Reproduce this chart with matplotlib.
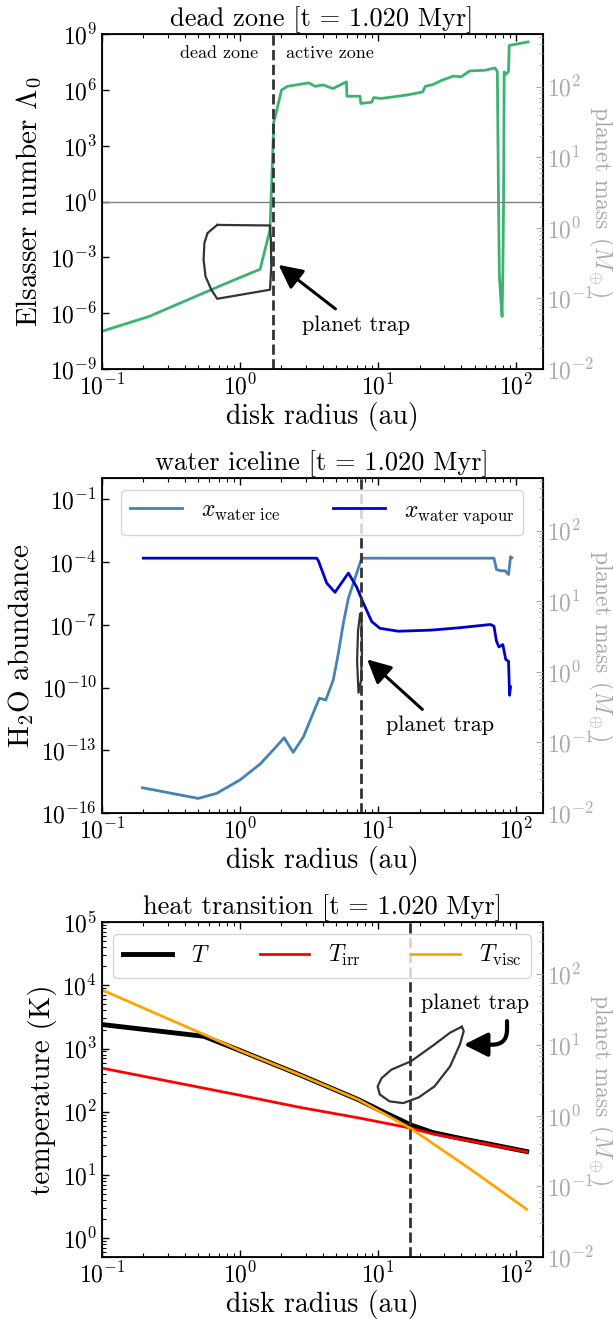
#!/usr/bin/env python3

import matplotlib
matplotlib.use("Agg")
import matplotlib.pyplot as plt
import numpy as np

plt.rcParams['font.family'] = 'serif'
plt.rcParams['font.serif'] = ['cmr10', 'DejaVu Serif']
plt.rcParams['mathtext.fontset'] = 'cm'
plt.rcParams['axes.formatter.use_mathtext'] = True
plt.rcParams['axes.unicode_minus'] = False

# ---- data: dead zone panel
r_dz = [0.1, 0.22, 0.8, 1.4, 1.65, 1.76, 1.8, 2.0, 2.2, 3.16, 3.5, 4.0, 4.7,
        5.9, 5.95, 7.4, 7.5, 9.0, 9.3, 10.5, 16, 21, 22, 25, 29, 35, 40, 46,
        60, 70, 73, 74.5, 75.5, 77, 79, 80, 81, 81.8, 84, 88, 89, 122]
log_lambda = [-6.97, -6.17, -4.38, -3.63, -1.52, 4.3, 4.56, 6.0, 6.2, 6.39,
              6.2, 6.28, 6.08, 6.44, 5.67, 5.67, 5.28, 5.35, 5.6, 5.55, 5.73,
              5.9, 6.2, 6.3, 6.53, 6.75, 6.72, 7.03, 7.07, 7.19, 7.0, -0.09,
              -3.93, -5.0, -6.17, -3.8, -0.1, 6.98, 6.85, 7.0, 8.4, 8.59]
r_trap_dz = 1.74
trk_dz_r = [0.685, 1.652, 1.675, 1.687, 1.652, 0.685, 0.621, 0.564, 0.546,
            0.553, 0.582, 0.685]
trk_dz_m = [1.10, 1.08, 0.676, 0.284, 0.133, 0.099, 0.133, 0.205, 0.352,
            0.607, 0.841, 1.10]

# ---- data: water iceline panel
r_ice = [0.197, 0.499, 0.678, 1.0, 1.40, 1.74, 2.09, 2.43, 2.88, 3.31, 3.76,
         4.18, 4.74, 5.16, 5.61, 6.1, 6.63, 7.2, 7.62, 69, 72, 77, 83, 88,
         91, 93]
log_ice = [-14.79, -15.30, -15.06, -14.42, -13.66, -12.99, -12.40, -13.1,
           -12.36, -11.39, -10.51, -10.6, -9.64, -8.36, -6.92, -5.73, -5.01,
           -4.29, -3.82, -3.82, -4.36, -4.42, -4.42, -4.6, -3.75, -3.8]
r_vap = [0.2, 3.6, 3.7, 4.25, 4.88, 6.1, 7.0, 7.83, 9.0, 10.3, 14, 24, 38,
         65, 69, 72, 75, 80, 84, 88, 89.5, 91]
log_vap = [-3.82, -3.82, -3.95, -5.01, -5.45, -4.53, -5.2, -5.97, -6.85,
           -7.17, -7.31, -7.26, -7.15, -6.99, -7.07, -7.79, -8.06, -7.95,
           -8.66, -8.75, -10.37, -9.97]
r_trap_ice = 7.48
trk_ice_r = [7.41, 7.16, 7.05, 7.22, 7.53, 7.65, 7.59, 7.41]
trk_ice_m = [6.56, 3.78, 1.43, 0.506, 0.75, 1.98, 5.2, 6.56]

# ---- data: heat transition panel
r_T = [0.1, 0.55, 1.0, 2.72, 7.2, 11.6, 14.5, 17.1, 25.1, 40, 61, 119]
T_tot = [2400, 1560, 930, 383, 155, 93, 74, 62, 46.5, 37.5, 31.3, 23.4]
r_irr = [0.1, 1.0, 2.72, 7.4, 17.1, 25.1, 40, 61, 119]
T_irr = [490, 182, 117, 79, 55, 44.3, 36.5, 30.7, 23.2]
r_visc = [0.1, 0.58, 1.0, 2.72, 7.2, 17.1, 45, 119]
T_visc = [8500, 1585, 930, 383, 155, 55, 13.0, 2.85]
r_trap_heat = 17.0
trk_heat_r = [40.4, 33.2, 25.6, 17.3, 12.5, 10.6, 9.93, 10.3, 12.1, 15.2,
              19.7, 25.6, 33.2, 39.1, 41.7, 40.4]
trk_heat_m = [18.2, 15.0, 10.2, 5.9, 4.5, 3.4, 2.6, 2.0, 1.6, 1.51, 1.82,
              2.6, 5.0, 10.2, 15.8, 18.2]

t_myr = 1.020
grey = '#aaaaaa'
trk_col = '#333333'


def style_axes(ax):
	ax.set_xscale('log')
	ax.set_yscale('log')
	ax.set_xlim(0.1, 155)
	ax.tick_params(which='both', direction='in', top=True, right=False, labelsize=17)
	ax.tick_params(which='major', length=5, width=1)
	ax.tick_params(which='minor', length=3, width=0.8)
	ax.set_xlabel('disk radius (au)', fontsize=20, labelpad=2)
	for s in ax.spines.values():
		s.set_linewidth(1.3)


def add_mass_axis(ax, r, m):
	ax2 = ax.twinx()
	ax2.set_yscale('log')
	ax2.set_ylim(1e-2, 550)
	ax2.plot(r, m, color=trk_col, lw=1.6)
	ax2.tick_params(which='both', direction='in', colors=grey, labelsize=17)
	ax2.tick_params(which='major', length=5)
	ax2.tick_params(which='minor', length=3)
	ax2.spines['right'].set_color('k')
	ax2.set_ylabel(r'planet mass ($M_\oplus$)', color=grey, fontsize=17,
	               rotation=270, labelpad=15)
	return ax2


fig, axes = plt.subplots(3, 1, figsize=(6.13, 13.19), dpi=100)
plt.subplots_adjust(left=0.166, right=0.885, top=0.974, bottom=0.047, hspace=0.326)

# dead zone
ax = axes[0]
style_axes(ax)
ax.plot(r_dz, 10 ** np.array(log_lambda), color='mediumseagreen', lw=2)
ax.axhline(1, color='grey', lw=1)
ax.axvline(r_trap_dz, color=trk_col, ls='--', lw=2)
ax.set_ylim(1e-9, 1e9)
ax.set_yticks([1e-9, 1e-6, 1e-3, 1e0, 1e3, 1e6, 1e9])
ax.yaxis.set_minor_locator(matplotlib.ticker.NullLocator())
ax.set_ylabel(r'Elsasser number $\Lambda_0$', fontsize=21)
ax.set_title('dead zone [t = %.3f Myr]' % t_myr, fontsize=19)
ax.text(r_trap_dz / 1.28, 1e8, 'dead zone', ha='right', va='center', fontsize=13)
ax.text(r_trap_dz * 1.23, 1e8, 'active zone', ha='left', va='center', fontsize=13)
ax.annotate('planet trap', xy=(1.905, 4e-4), xytext=(6.93, 2.4e-7),
            ha='center', va='center', fontsize=16,
            arrowprops=dict(arrowstyle='-|>,head_width=0.45,head_length=0.9',
                            color='k', lw=2.2, shrinkA=4, shrinkB=0))
add_mass_axis(ax, trk_dz_r, trk_dz_m)

# water iceline
ax = axes[1]
style_axes(ax)
ax.plot(r_ice, 10 ** np.array(log_ice), color='steelblue', lw=2,
        label=r'$x_{\rm water\ ice}$')
ax.plot(r_vap, 10 ** np.array(log_vap), color='mediumblue', lw=2,
        label=r'$x_{\rm water\ vapour}$')
ax.axvline(r_trap_ice, color=trk_col, ls='--', lw=2)
ax.set_ylim(1e-16, 1)
ax.set_yticks([1e-16, 1e-13, 1e-10, 1e-7, 1e-4, 1e-1])
ax.yaxis.set_minor_locator(matplotlib.ticker.NullLocator())
ax.set_ylabel(r'H$_2$O abundance', fontsize=21)
ax.set_title('water iceline [t = %.3f Myr]' % t_myr, fontsize=19)
ax.legend(loc='upper center', ncol=2, fontsize=17, columnspacing=2.2,
          handlelength=2.2)
ax.annotate('planet trap', xy=(8.34, 2.2e-9), xytext=(28.2, 1.5e-12),
            ha='center', va='center', fontsize=16,
            arrowprops=dict(arrowstyle='-|>,head_width=0.45,head_length=0.9',
                            color='k', lw=2.2, shrinkA=4, shrinkB=0))
add_mass_axis(ax, trk_ice_r, trk_ice_m)

# heat transition
ax = axes[2]
style_axes(ax)
ax.plot(r_T, T_tot, color='k', lw=3.5, label=r'$T$')
ax.plot(r_irr, T_irr, color='red', lw=2, label=r'$T_{\rm irr}$')
ax.plot(r_visc, T_visc, color='orange', lw=2, label=r'$T_{\rm visc}$')
ax.axvline(r_trap_heat, color=trk_col, ls='--', lw=2)
ax.set_ylim(0.5, 1e5)
ax.set_ylabel('temperature (K)', fontsize=21)
ax.set_title('heat transition [t = %.3f Myr]' % t_myr, fontsize=19)
ax.legend(loc='upper center', ncol=3, fontsize=17, columnspacing=2.1,
          handlelength=2.1)
ax.annotate('planet trap', xy=(41.7, 1150), xytext=(50, 5250),
            ha='center', va='center', fontsize=16,
            arrowprops=dict(arrowstyle='-|>,head_width=0.45,head_length=0.9',
                            color='k', lw=3, relpos=(0.8, 0), shrinkA=4, shrinkB=0,
                            connectionstyle='angle,angleA=90,angleB=0,rad=15'))
add_mass_axis(ax, trk_heat_r, trk_heat_m)

fig.savefig('out.png', dpi=100)
